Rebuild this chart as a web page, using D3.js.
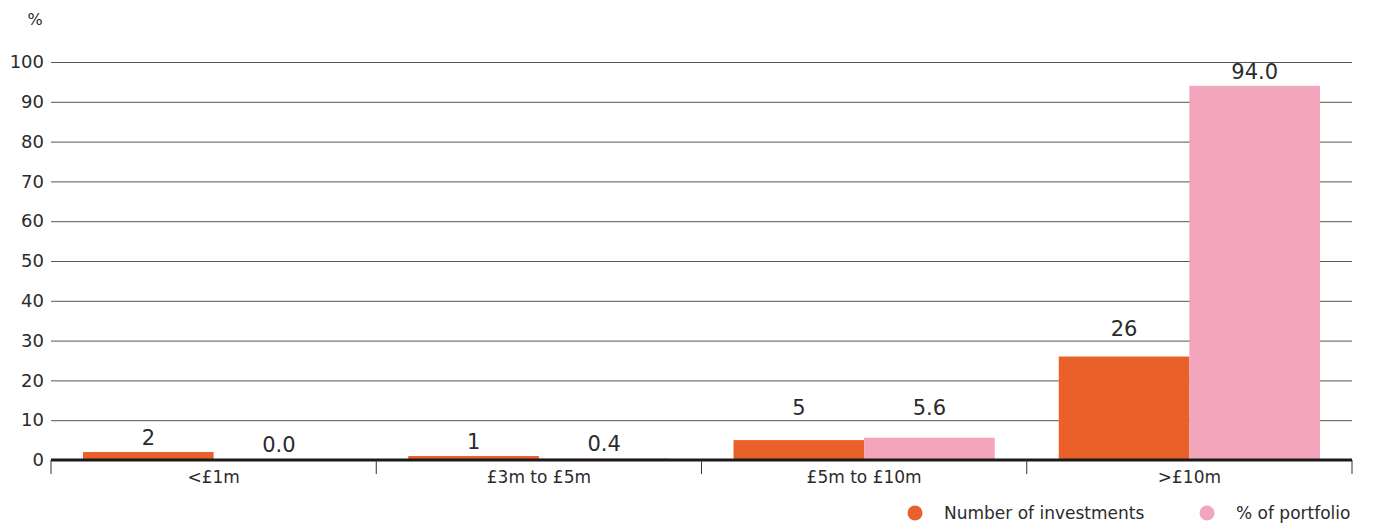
<!doctype html>
<html lang="en">
<head>
<meta charset="utf-8">
<title>Investments by size</title>
<style>
    body { margin: 0; background: #fff; }
    svg text { font-family: "DejaVu Sans", sans-serif; fill: #2b2b2b; }
</style>
</head>
<body>
<div id="output"></div>
<script src="https://d3js.org/d3.v7.min.js"></script>
<script>
    var categories = ["<£1m", "£3m to £5m", "£5m to £10m", ">£10m"];
    var seriesNames = ["Number of investments", "% of portfolio"];
    var investments = [2, 1, 5, 26];
    var portfolio = [0.0, 0.4, 5.6, 94.0];
    var portfolioLabels = ["0.0", "0.4", "5.6", "94.0"];
    var yTicks = [0, 10, 20, 30, 40, 50, 60, 70, 80, 90, 100];

    var colors = ["#ea602a", "#f2a5bb"];

    var width = 1373, height = 524;
    var mLeft = 51, mRight = 1352, mTop = 62, mBottom = 460;
    var font = "'DejaVu Sans', sans-serif";

    var svg = d3.select("#output").append("svg")
        .attr("width", width)
        .attr("height", height);

    var x0 = d3.scaleBand()
        .domain(categories)
        .range([mLeft, mRight])
        .padding(0);

    var x1 = d3.scaleBand()
        .domain(seriesNames)
        .range([0, x0.bandwidth()])
        .paddingInner(0)
        .paddingOuter(0.245);

    var y = d3.scaleLinear()
        .domain([0, 100])
        .range([mBottom, mTop]);

    // gridlines + labels
    var yAxis = d3.axisLeft(y)
        .tickValues(yTicks)
        .tickSize(-(mRight - mLeft))
        .tickPadding(8);

    var gy = svg.append("g")
        .attr("transform", "translate(" + mLeft + ",0)")
        .call(yAxis);
    gy.select(".domain").remove();
    gy.selectAll(".tick line")
        .attr("stroke", "#555")
        .attr("stroke-width", 1);
    gy.selectAll(".tick text")
        .attr("font-size", 18)
        .attr("x", -7)
        .style("font-family", font)
        .attr("fill", "#2b2b2b");
    gy.selectAll(".tick")
        .filter(function (d) { return d === 0; })
        .select("line").remove();

    svg.append("text")
        .attr("x", 35)
        .attr("y", 25)
        .attr("text-anchor", "middle")
        .attr("font-size", 16)
        .text("%");

    // bars
    var rows = categories.map(function (c, i) {
        return [
            { cat: c, key: seriesNames[0], value: investments[i], label: String(investments[i]) },
            { cat: c, key: seriesNames[1], value: portfolio[i], label: portfolioLabels[i] }
        ];
    });

    var groups = svg.selectAll(".grp")
        .data(rows)
        .enter()
        .append("g")
        .attr("class", "grp")
        .attr("transform", function (d, i) { return "translate(" + x0(categories[i]) + ",0)"; });

    groups.selectAll("rect")
        .data(function (d) { return d; })
        .enter()
        .append("rect")
        .attr("x", function (d) { return x1(d.key); })
        .attr("y", function (d) { return y(d.value); })
        .attr("width", x1.bandwidth())
        .attr("height", function (d) { return mBottom - y(d.value); })
        .attr("fill", function (d, i) { return colors[i]; });

    // label sits on the bar, but is lifted above a gridline it would cross
    function labelY(v) {
        var base = Math.min(y(v) - 7, mBottom - 8);
        yTicks.forEach(function (t) {
            var gyv = y(t);
            if (t > 0 && gyv > base - 16 && gyv < base + 2) base = gyv - 5;
        });
        return base;
    }

    groups.selectAll(".val")
        .data(function (d) { return d; })
        .enter()
        .append("text")
        .attr("class", "val")
        .attr("x", function (d) { return x1(d.key) + x1.bandwidth() / 2; })
        .attr("y", function (d) { return labelY(d.value); })
        .attr("text-anchor", "middle")
        .attr("font-size", 21)
        .text(function (d) { return d.label; });

    // x axis
    var xAxis = d3.axisBottom(x0).tickSize(0).tickPadding(11);
    var gx = svg.append("g")
        .attr("transform", "translate(0," + mBottom + ")")
        .call(xAxis);
    gx.select(".domain").remove();
    gx.selectAll(".tick text")
        .attr("font-size", 17)
        .style("font-family", font)
        .attr("fill", "#2b2b2b");

    svg.append("line")
        .attr("x1", mLeft).attr("x2", mRight)
        .attr("y1", mBottom).attr("y2", mBottom)
        .attr("stroke", "#1a1a1a")
        .attr("stroke-width", 3);

    var edges = categories.map(function (c) { return x0(c); }).concat([mRight]);
    svg.selectAll(".sep")
        .data(edges)
        .enter()
        .append("line")
        .attr("class", "sep")
        .attr("x1", function (d) { return d; })
        .attr("x2", function (d) { return d; })
        .attr("y1", mBottom)
        .attr("y2", mBottom + 14)
        .attr("stroke", "#333")
        .attr("stroke-width", 1);

    // legend
    var legendX = [915, 1207];
    var legend = svg.selectAll(".leg")
        .data(seriesNames)
        .enter()
        .append("g")
        .attr("class", "leg")
        .attr("transform", function (d, i) { return "translate(" + legendX[i] + ",513)"; });
    legend.append("circle")
        .attr("r", 7.5)
        .attr("fill", function (d, i) { return colors[i]; });
    legend.append("text")
        .attr("x", 29)
        .attr("dy", "0.35em")
        .attr("font-size", 17)
        .text(function (d) { return d; });
</script>
</body>
</html>
